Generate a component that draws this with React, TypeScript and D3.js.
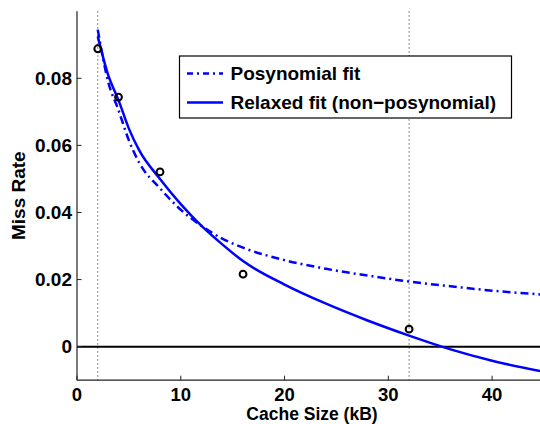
import React from "react";
import * as d3 from "d3";

// Cache sizes (kB) of measured points and observed miss rates
const pointSizes = [2, 4, 8, 16, 32];
const pointRates = [0.0888, 0.0744, 0.0521, 0.0216, 0.0052];

// Sample positions for fitted curves
const fitSizes = [2, 3, 4, 5, 6, 8, 10, 12, 14, 16, 20, 24, 28, 32, 36, 40, 45];
const posyFit = [0.0945, 0.079, 0.0705, 0.0615, 0.0548, 0.0472, 0.0408, 0.036, 0.0322, 0.0295, 0.0258, 0.0232, 0.0212, 0.0194, 0.018, 0.0167, 0.0155];
const relaxedFit = [0.0925, 0.081, 0.0735, 0.065, 0.0585, 0.05, 0.0425, 0.036, 0.0305, 0.0255, 0.0185, 0.0128, 0.0078, 0.0033, -0.0008, -0.0042, -0.0075];

const xTicks = [0, 10, 20, 30, 40];
const yTicks = [0, 0.02, 0.04, 0.06, 0.08];
const yTickLabels = ["0", "0.02", "0.04", "0.06", "0.08"];
const refLines = [2, 32];

const legendLabels = ["Posynomial fit", "Relaxed fit (non\u2212posynomial)"];

const W = 540;
const H = 424;
const FONT = "'Liberation Sans', Arial, Helvetica, sans-serif";

export default function App() {
  const x = d3.scaleLinear().domain([0, 45]).range([77, 544]);
  const y = d3.scaleLinear().domain([-0.01, 0.1]).range([380.2, 11.2]);

  const line = d3
    .line<number>()
    .x((_, i) => x(fitSizes[i]))
    .curve(d3.curveMonotoneX);

  const posyPath = line.y((d) => y(d))(posyFit) || "";
  const relaxedPath = line.y((d) => y(d))(relaxedFit) || "";

  const blue = "#0000ff";
  const dashDot = "8,4,2,4";

  return (
    <svg
      width={W}
      height={H}
      style={{ position: "absolute", left: 0, top: 0, background: "#fff" }}
      fontFamily={FONT}
      fontWeight="bold"
    >
      <rect x={0} y={0} width={W} height={H} fill="#fff" />
      {/* reference vertical dotted lines */}
      {refLines.map((v) => (
        <line
          key={v}
          x1={x(v)}
          x2={x(v)}
          y1={y(0.1)}
          y2={y(-0.01)}
          stroke="#666"
          strokeWidth={1}
          strokeDasharray="1.5,2.5"
        />
      ))}
      {/* zero line */}
      <line x1={x(0)} x2={W} y1={y(0)} y2={y(0)} stroke="#000" strokeWidth={2} />
      {/* curves */}
      <path d={posyPath} fill="none" stroke={blue} strokeWidth={2.5} strokeDasharray={dashDot} />
      <path d={relaxedPath} fill="none" stroke={blue} strokeWidth={2.5} />
      {/* points */}
      {pointSizes.map((s, i) => (
        <circle key={s} cx={x(s)} cy={y(pointRates[i])} r={3.4} fill="none" stroke="#000" strokeWidth={2} />
      ))}
      {/* axes */}
      <line x1={x(0)} x2={x(0)} y1={y(0.1)} y2={y(-0.01)} stroke="#222" strokeWidth={1.2} />
      <line x1={x(0)} x2={W} y1={y(-0.01)} y2={y(-0.01)} stroke="#222" strokeWidth={1.2} />
      {yTicks.map((t, i) => (
        <g key={t}>
          <line x1={x(0)} x2={x(0) + 4.5} y1={y(t)} y2={y(t)} stroke="#222" strokeWidth={1} />
          <text x={72} y={y(t)} dy="0.35em" textAnchor="end" fontSize={19} fill="#000">
            {yTickLabels[i]}
          </text>
        </g>
      ))}
      {xTicks.map((t) => (
        <g key={t}>
          <line x1={x(t)} x2={x(t)} y1={y(-0.01)} y2={y(-0.01) - 4.5} stroke="#222" strokeWidth={1} />
          <text x={x(t)} y={400.5} textAnchor="middle" fontSize={18.5} fill="#000">
            {t}
          </text>
        </g>
      ))}
      <text x={312} y={420} textAnchor="middle" fontSize={17.5} fill="#000">
        Cache Size (kB)
      </text>
      <text
        transform={`translate(25,${(y(0.1) + y(-0.01)) / 2}) rotate(-90)`}
        textAnchor="middle"
        fontSize={19}
        fill="#000"
      >
        Miss Rate
      </text>
      {/* legend */}
      <rect x={179.5} y={56} width={332} height={62} fill="#fff" stroke="#000" strokeWidth={1.2} />
      <line x1={187} x2={223} y1={73.5} y2={73.5} stroke={blue} strokeWidth={2.5} strokeDasharray="6,4,2,4" />
      <line x1={187} x2={223} y1={102.5} y2={102.5} stroke={blue} strokeWidth={2.5} />
      <text x={230.5} y={73.5} dy="0.35em" fontSize={19} fill="#000">
        {legendLabels[0]}
      </text>
      <text x={230.5} y={102.5} dy="0.35em" fontSize={19} fill="#000">
        {legendLabels[1]}
      </text>
    </svg>
  );
}
